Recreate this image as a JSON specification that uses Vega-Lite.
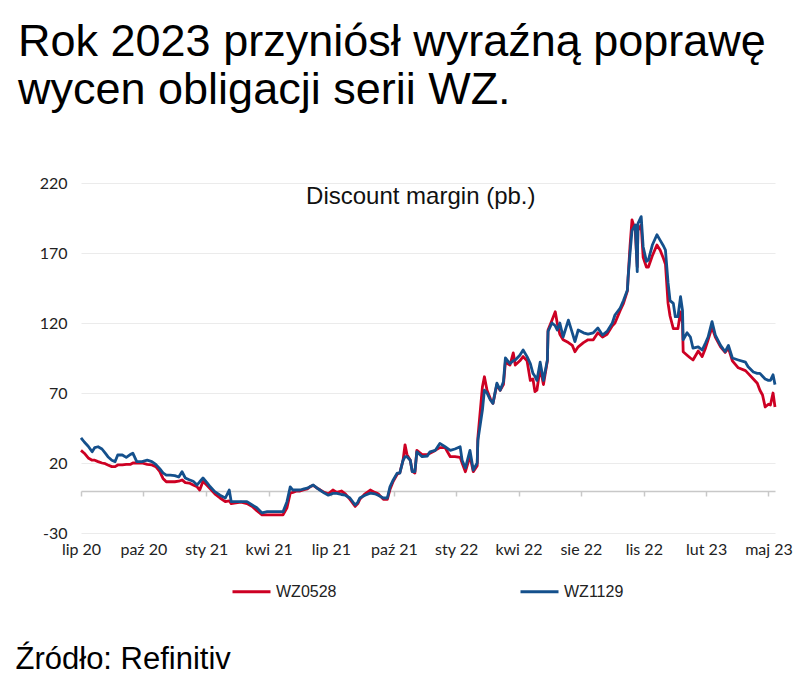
{
  "$schema": "https://vega.github.io/schema/vega-lite/v6.json",
  "width": 694,
  "height": 350,
  "autosize": {"type": "none"},
  "padding": {"left": 81, "top": 183, "right": 25, "bottom": 144},
  "background": "white",
  "config": {"view": {"stroke": null}},
  "title": {
    "text": ["Rok 2023 przyniósł wyraźną poprawę", "wycen obligacji serii WZ."],
    "anchor": "start",
    "frame": "group",
    "dx": -63,
    "font": "Liberation Sans",
    "fontSize": 45,
    "fontWeight": "normal",
    "color": "#000000",
    "lineHeight": 48,
    "baseline": "alphabetic",
    "offset": 26
  },
  "data": {
    "values": [
      {"data": "2020-07-01", "WZ0528": 29, "WZ1129": 38},
      {"data": "2020-07-06", "WZ0528": 27, "WZ1129": 35},
      {"data": "2020-07-12", "WZ0528": 23.6, "WZ1129": 32},
      {"data": "2020-07-18", "WZ0528": 22, "WZ1129": 28},
      {"data": "2020-07-22", "WZ0528": 22, "WZ1129": 31},
      {"data": "2020-07-27", "WZ0528": 21, "WZ1129": 31.6},
      {"data": "2020-08-02", "WZ0528": 20, "WZ1129": 30},
      {"data": "2020-08-07", "WZ0528": 19.5, "WZ1129": 27},
      {"data": "2020-08-11", "WZ0528": 18.6, "WZ1129": 24.5},
      {"data": "2020-08-17", "WZ0528": 17.4, "WZ1129": 22},
      {"data": "2020-08-22", "WZ0528": 17.4, "WZ1129": 21},
      {"data": "2020-08-26", "WZ0528": 18.6, "WZ1129": 25.7},
      {"data": "2020-09-02", "WZ0528": 18.6, "WZ1129": 25.7},
      {"data": "2020-09-08", "WZ0528": 19, "WZ1129": 24},
      {"data": "2020-09-14", "WZ0528": 19, "WZ1129": 26},
      {"data": "2020-09-18", "WZ0528": 20, "WZ1129": 27},
      {"data": "2020-09-24", "WZ0528": 20, "WZ1129": 21},
      {"data": "2020-10-02", "WZ0528": 20, "WZ1129": 21},
      {"data": "2020-10-10", "WZ0528": 19, "WZ1129": 22},
      {"data": "2020-10-17", "WZ0528": 18.6, "WZ1129": 21},
      {"data": "2020-10-23", "WZ0528": 17.4, "WZ1129": 19},
      {"data": "2020-10-29", "WZ0528": 14, "WZ1129": 16},
      {"data": "2020-11-03", "WZ0528": 9, "WZ1129": 13},
      {"data": "2020-11-08", "WZ0528": 6.6, "WZ1129": 11.4},
      {"data": "2020-11-14", "WZ0528": 6.6, "WZ1129": 11.4},
      {"data": "2020-11-21", "WZ0528": 6.6, "WZ1129": 11},
      {"data": "2020-11-27", "WZ0528": 7, "WZ1129": 10},
      {"data": "2020-12-02", "WZ0528": 7.9, "WZ1129": 13.8},
      {"data": "2020-12-07", "WZ0528": 6, "WZ1129": 9.3},
      {"data": "2020-12-13", "WZ0528": 5.7, "WZ1129": 8},
      {"data": "2020-12-19", "WZ0528": 4.3, "WZ1129": 7},
      {"data": "2020-12-25", "WZ0528": 3, "WZ1129": 4.3},
      {"data": "2020-12-29", "WZ0528": 0.7, "WZ1129": 6.6},
      {"data": "2021-01-03", "WZ0528": 7, "WZ1129": 9.3},
      {"data": "2021-01-09", "WZ0528": 4, "WZ1129": 6},
      {"data": "2021-01-14", "WZ0528": 1.5, "WZ1129": 3},
      {"data": "2021-01-21", "WZ0528": -2, "WZ1129": -0.5},
      {"data": "2021-01-29", "WZ0528": -5, "WZ1129": -3},
      {"data": "2021-02-06", "WZ0528": -7.6, "WZ1129": -5},
      {"data": "2021-02-12", "WZ0528": -7, "WZ1129": 0.7},
      {"data": "2021-02-15", "WZ0528": -9, "WZ1129": -7.6},
      {"data": "2021-02-22", "WZ0528": -8.5, "WZ1129": -7.6},
      {"data": "2021-03-02", "WZ0528": -8, "WZ1129": -7.6},
      {"data": "2021-03-11", "WZ0528": -9, "WZ1129": -7.6},
      {"data": "2021-03-19", "WZ0528": -11, "WZ1129": -10},
      {"data": "2021-03-26", "WZ0528": -14, "WZ1129": -12},
      {"data": "2021-04-03", "WZ0528": -17, "WZ1129": -15.7},
      {"data": "2021-04-11", "WZ0528": -17, "WZ1129": -14.8},
      {"data": "2021-04-18", "WZ0528": -17, "WZ1129": -14.8},
      {"data": "2021-04-26", "WZ0528": -17, "WZ1129": -14.8},
      {"data": "2021-05-05", "WZ0528": -17, "WZ1129": -14.8},
      {"data": "2021-05-11", "WZ0528": -12, "WZ1129": -7.6},
      {"data": "2021-05-16", "WZ0528": -1.5, "WZ1129": 3},
      {"data": "2021-05-20", "WZ0528": -1, "WZ1129": 0.7},
      {"data": "2021-05-26", "WZ0528": 0, "WZ1129": 0.7},
      {"data": "2021-05-31", "WZ0528": 0, "WZ1129": 0.7},
      {"data": "2021-06-06", "WZ0528": 1, "WZ1129": 1.5},
      {"data": "2021-06-11", "WZ0528": 1.5, "WZ1129": 2},
      {"data": "2021-06-15", "WZ0528": 3, "WZ1129": 3},
      {"data": "2021-06-20", "WZ0528": 4, "WZ1129": 4.3},
      {"data": "2021-06-26", "WZ0528": 2, "WZ1129": 2},
      {"data": "2021-06-30", "WZ0528": 1, "WZ1129": 0.7},
      {"data": "2021-07-07", "WZ0528": -1, "WZ1129": -1.5},
      {"data": "2021-07-13", "WZ0528": -2, "WZ1129": -3},
      {"data": "2021-07-20", "WZ0528": 0.7, "WZ1129": -1.7},
      {"data": "2021-07-26", "WZ0528": -1, "WZ1129": -1.7},
      {"data": "2021-08-02", "WZ0528": 0, "WZ1129": -2.5},
      {"data": "2021-08-08", "WZ0528": -2, "WZ1129": -3},
      {"data": "2021-08-15", "WZ0528": -6, "WZ1129": -5},
      {"data": "2021-08-23", "WZ0528": -11, "WZ1129": -10},
      {"data": "2021-08-27", "WZ0528": -9, "WZ1129": -8},
      {"data": "2021-08-30", "WZ0528": -6, "WZ1129": -5},
      {"data": "2021-09-07", "WZ0528": -2, "WZ1129": -3},
      {"data": "2021-09-15", "WZ0528": 0.7, "WZ1129": -1.5},
      {"data": "2021-09-22", "WZ0528": -1, "WZ1129": -2},
      {"data": "2021-09-27", "WZ0528": -2, "WZ1129": -3},
      {"data": "2021-10-05", "WZ0528": -6, "WZ1129": -5},
      {"data": "2021-10-11", "WZ0528": -6, "WZ1129": -5},
      {"data": "2021-10-15", "WZ0528": 1, "WZ1129": 3},
      {"data": "2021-10-20", "WZ0528": 7, "WZ1129": 7.9},
      {"data": "2021-10-26", "WZ0528": 12, "WZ1129": 12.8},
      {"data": "2021-10-30", "WZ0528": 13, "WZ1129": 12.8},
      {"data": "2021-11-04", "WZ0528": 22, "WZ1129": 22},
      {"data": "2021-11-07", "WZ0528": 33, "WZ1129": 24.5},
      {"data": "2021-11-10", "WZ0528": 26, "WZ1129": 24.5},
      {"data": "2021-11-15", "WZ0528": 22, "WZ1129": 22},
      {"data": "2021-11-18", "WZ0528": 14, "WZ1129": 13.8},
      {"data": "2021-11-22", "WZ0528": 12.8, "WZ1129": 13.8},
      {"data": "2021-11-25", "WZ0528": 29, "WZ1129": 28},
      {"data": "2021-12-03", "WZ0528": 26, "WZ1129": 24.5},
      {"data": "2021-12-11", "WZ0528": 26, "WZ1129": 25},
      {"data": "2021-12-15", "WZ0528": 27, "WZ1129": 28},
      {"data": "2021-12-23", "WZ0528": 29, "WZ1129": 29},
      {"data": "2021-12-30", "WZ0528": 31, "WZ1129": 34},
      {"data": "2022-01-07", "WZ0528": 31, "WZ1129": 31.6},
      {"data": "2022-01-15", "WZ0528": 24.5, "WZ1129": 29},
      {"data": "2022-01-22", "WZ0528": 24.5, "WZ1129": 30},
      {"data": "2022-01-30", "WZ0528": 24, "WZ1129": 31.6},
      {"data": "2022-02-02", "WZ0528": 20, "WZ1129": 22},
      {"data": "2022-02-07", "WZ0528": 13.8, "WZ1129": 16.4},
      {"data": "2022-02-14", "WZ0528": 25, "WZ1129": 29},
      {"data": "2022-02-19", "WZ0528": 13.8, "WZ1129": 15},
      {"data": "2022-02-25", "WZ0528": 18, "WZ1129": 20},
      {"data": "2022-02-26", "WZ0528": 38, "WZ1129": 36},
      {"data": "2022-03-05", "WZ0528": 74.5, "WZ1129": 58},
      {"data": "2022-03-08", "WZ0528": 81.6, "WZ1129": 72},
      {"data": "2022-03-12", "WZ0528": 72, "WZ1129": 70},
      {"data": "2022-03-17", "WZ0528": 66, "WZ1129": 65},
      {"data": "2022-03-21", "WZ0528": 62.6, "WZ1129": 62.6},
      {"data": "2022-03-27", "WZ0528": 76, "WZ1129": 77},
      {"data": "2022-04-01", "WZ0528": 72, "WZ1129": 72},
      {"data": "2022-04-06", "WZ0528": 76, "WZ1129": 78},
      {"data": "2022-04-09", "WZ0528": 92, "WZ1129": 95},
      {"data": "2022-04-16", "WZ0528": 90, "WZ1129": 91},
      {"data": "2022-04-21", "WZ0528": 98.6, "WZ1129": 93},
      {"data": "2022-04-24", "WZ0528": 90, "WZ1129": 93.6},
      {"data": "2022-05-01", "WZ0528": 93, "WZ1129": 97},
      {"data": "2022-05-06", "WZ0528": 96, "WZ1129": 100.7},
      {"data": "2022-05-12", "WZ0528": 93, "WZ1129": 96},
      {"data": "2022-05-17", "WZ0528": 79, "WZ1129": 91},
      {"data": "2022-05-21", "WZ0528": 80, "WZ1129": 84},
      {"data": "2022-05-24", "WZ0528": 71, "WZ1129": 82},
      {"data": "2022-05-27", "WZ0528": 72, "WZ1129": 79},
      {"data": "2022-06-01", "WZ0528": 88, "WZ1129": 92},
      {"data": "2022-06-06", "WZ0528": 76, "WZ1129": 79},
      {"data": "2022-06-12", "WZ0528": 93, "WZ1129": 93.6},
      {"data": "2022-06-13", "WZ0528": 115, "WZ1129": 114},
      {"data": "2022-06-19", "WZ0528": 122, "WZ1129": 120},
      {"data": "2022-06-24", "WZ0528": 128, "WZ1129": 118},
      {"data": "2022-06-27", "WZ0528": 120, "WZ1129": 115},
      {"data": "2022-07-01", "WZ0528": 112, "WZ1129": 120},
      {"data": "2022-07-06", "WZ0528": 108, "WZ1129": 110},
      {"data": "2022-07-14", "WZ0528": 106, "WZ1129": 122},
      {"data": "2022-07-20", "WZ0528": 104, "WZ1129": 113},
      {"data": "2022-07-24", "WZ0528": 99.5, "WZ1129": 106.7},
      {"data": "2022-07-29", "WZ0528": 103, "WZ1129": 115},
      {"data": "2022-08-06", "WZ0528": 106, "WZ1129": 113},
      {"data": "2022-08-13", "WZ0528": 108, "WZ1129": 112},
      {"data": "2022-08-21", "WZ0528": 108, "WZ1129": 113},
      {"data": "2022-08-28", "WZ0528": 113, "WZ1129": 116.4},
      {"data": "2022-09-04", "WZ0528": 110, "WZ1129": 111.4},
      {"data": "2022-09-11", "WZ0528": 112, "WZ1129": 114},
      {"data": "2022-09-19", "WZ0528": 118, "WZ1129": 120},
      {"data": "2022-09-23", "WZ0528": 120, "WZ1129": 125.7},
      {"data": "2022-10-01", "WZ0528": 129, "WZ1129": 130.7},
      {"data": "2022-10-06", "WZ0528": 134, "WZ1129": 136},
      {"data": "2022-10-12", "WZ0528": 143, "WZ1129": 143.6},
      {"data": "2022-10-13", "WZ0528": 152, "WZ1129": 152},
      {"data": "2022-10-16", "WZ0528": 175, "WZ1129": 170},
      {"data": "2022-10-19", "WZ0528": 193.6, "WZ1129": 186},
      {"data": "2022-10-24", "WZ0528": 186, "WZ1129": 190},
      {"data": "2022-10-27", "WZ0528": 160, "WZ1129": 156.7},
      {"data": "2022-10-28", "WZ0528": 186, "WZ1129": 191},
      {"data": "2022-11-02", "WZ0528": 190, "WZ1129": 196},
      {"data": "2022-11-05", "WZ0528": 167, "WZ1129": 174.5},
      {"data": "2022-11-10", "WZ0528": 160, "WZ1129": 164},
      {"data": "2022-11-13", "WZ0528": 160, "WZ1129": 165},
      {"data": "2022-11-19", "WZ0528": 168, "WZ1129": 175.7},
      {"data": "2022-11-26", "WZ0528": 175.7, "WZ1129": 183},
      {"data": "2022-12-01", "WZ0528": 172, "WZ1129": 179},
      {"data": "2022-12-06", "WZ0528": 166, "WZ1129": 175},
      {"data": "2022-12-09", "WZ0528": 162, "WZ1129": 172},
      {"data": "2022-12-13", "WZ0528": 134, "WZ1129": 148.6},
      {"data": "2022-12-16", "WZ0528": 125, "WZ1129": 136},
      {"data": "2022-12-21", "WZ0528": 116, "WZ1129": 134},
      {"data": "2022-12-24", "WZ0528": 116, "WZ1129": 124.5},
      {"data": "2022-12-28", "WZ0528": 116, "WZ1129": 124.5},
      {"data": "2023-01-01", "WZ0528": 128, "WZ1129": 138.8},
      {"data": "2023-01-04", "WZ0528": 120, "WZ1129": 129},
      {"data": "2023-01-05", "WZ0528": 99.5, "WZ1129": 108},
      {"data": "2023-01-11", "WZ0528": 97, "WZ1129": 113},
      {"data": "2023-01-16", "WZ0528": 95, "WZ1129": 110},
      {"data": "2023-01-20", "WZ0528": 93.6, "WZ1129": 102},
      {"data": "2023-01-28", "WZ0528": 100, "WZ1129": 103},
      {"data": "2023-02-03", "WZ0528": 96, "WZ1129": 100.7},
      {"data": "2023-02-08", "WZ0528": 102, "WZ1129": 105.7},
      {"data": "2023-02-12", "WZ0528": 108, "WZ1129": 110},
      {"data": "2023-02-18", "WZ0528": 117, "WZ1129": 121},
      {"data": "2023-02-23", "WZ0528": 110, "WZ1129": 111.4},
      {"data": "2023-03-03", "WZ0528": 103, "WZ1129": 104},
      {"data": "2023-03-10", "WZ0528": 99, "WZ1129": 99.5},
      {"data": "2023-03-15", "WZ0528": 102, "WZ1129": 104},
      {"data": "2023-03-21", "WZ0528": 93, "WZ1129": 95},
      {"data": "2023-03-30", "WZ0528": 88, "WZ1129": 93.6},
      {"data": "2023-04-10", "WZ0528": 86, "WZ1129": 92},
      {"data": "2023-04-14", "WZ0528": 84, "WZ1129": 88.8},
      {"data": "2023-04-22", "WZ0528": 80, "WZ1129": 85},
      {"data": "2023-04-28", "WZ0528": 77, "WZ1129": 84},
      {"data": "2023-05-02", "WZ0528": 72, "WZ1129": 84},
      {"data": "2023-05-06", "WZ0528": 68.6, "WZ1129": 82},
      {"data": "2023-05-10", "WZ0528": 60, "WZ1129": 80},
      {"data": "2023-05-15", "WZ0528": 62, "WZ1129": 79},
      {"data": "2023-05-18", "WZ0528": 61.4, "WZ1129": 79},
      {"data": "2023-05-22", "WZ0528": 70, "WZ1129": 83},
      {"data": "2023-05-25", "WZ0528": 60, "WZ1129": 76}
    ]
  },
  "layer": [
    {
      "transform": [{"fold": ["WZ0528", "WZ1129"], "as": ["seria", "v"]}],
      "mark": {"type": "line", "strokeWidth": 2.8, "strokeJoin": "round"},
      "encoding": {
        "x": {
          "field": "data",
          "type": "temporal",
          "scale": {
            "type": "utc",
            "domain": [
              {"year": 2020, "month": 7, "date": 1, "utc": true},
              {"year": 2023, "month": 5, "date": 25, "utc": true}
            ]
          },
          "axis": {
            "values": [
              {"year": 2020, "month": 7, "date": 1, "utc": true},
              {"year": 2020, "month": 10, "date": 4, "utc": true},
              {"year": 2021, "month": 1, "date": 8, "utc": true},
              {"year": 2021, "month": 4, "date": 13, "utc": true},
              {"year": 2021, "month": 7, "date": 17, "utc": true},
              {"year": 2021, "month": 10, "date": 21, "utc": true},
              {"year": 2022, "month": 1, "date": 24, "utc": true},
              {"year": 2022, "month": 4, "date": 29, "utc": true},
              {"year": 2022, "month": 8, "date": 2, "utc": true},
              {"year": 2022, "month": 11, "date": 6, "utc": true},
              {"year": 2023, "month": 2, "date": 9, "utc": true},
              {"year": 2023, "month": 5, "date": 15, "utc": true}
            ],
            "labelExpr": "['sty','lut','mar','kwi','maj','cze','lip','sie','wrz','paź','lis','gru'][utcmonth(datum.value)] + ' ' + utcFormat(datum.value, '%y')",
            "offset": -42,
            "grid": false,
            "domainColor": "#c8c8c8",
            "domainWidth": 1.5,
            "tickColor": "#c8c8c8",
            "tickWidth": 1.5,
            "tickSize": 5,
            "labelPadding": 45,
            "labelFont": "Lato",
            "labelFontSize": 16,
            "labelColor": "#222222",
            "labelOverlap": false,
            "labelFlush": false,
            "title": "Źródło: Refinitiv",
            "titleAnchor": "start",
            "titleAlign": "left",
            "titleX": -66,
            "titleY": 177,
            "titleBaseline": "alphabetic",
            "titleFont": "Liberation Sans",
            "titleFontSize": 31,
            "titleFontWeight": "normal",
            "titleColor": "#000000"
          }
        },
        "y": {
          "field": "v",
          "type": "quantitative",
          "scale": {"domain": [-30, 220], "nice": false, "zero": false},
          "axis": {
            "values": [-30, 20, 70, 120, 170, 220],
            "labelExpr": "toString(datum.value)",
            "domain": false,
            "ticks": false,
            "grid": true,
            "gridColor": "#ebebeb",
            "gridWidth": 1,
            "labelPadding": 14,
            "labelFont": "Lato",
            "labelFontSize": 16,
            "labelColor": "#222222",
            "title": null
          }
        },
        "color": {
          "field": "seria",
          "type": "nominal",
          "scale": {"domain": ["WZ0528", "WZ1129"], "range": ["#cd0023", "#14508c"]},
          "legend": {
            "title": null,
            "orient": "none",
            "legendX": 150,
            "legendY": 388,
            "direction": "horizontal",
            "symbolType": "stroke",
            "symbolSize": 1444,
            "symbolStrokeWidth": 3,
            "labelFont": "Liberation Sans",
            "labelFontSize": 16,
            "labelColor": "#222222",
            "labelOffset": 4,
            "columnPadding": 177
          }
        }
      }
    },
    {
      "data": {"values": [{"label": "Discount margin (pb.)"}]},
      "mark": {"type": "text", "font": "Liberation Sans", "fontSize": 24, "color": "#111111", "align": "center", "baseline": "alphabetic"},
      "encoding": {
        "x": {"datum": {"year": 2021, "month": 12, "date": 1, "utc": true}, "type": "temporal"},
        "y": {"datum": 205, "type": "quantitative"},
        "text": {"field": "label", "type": "nominal"}
      }
    }
  ]
}
